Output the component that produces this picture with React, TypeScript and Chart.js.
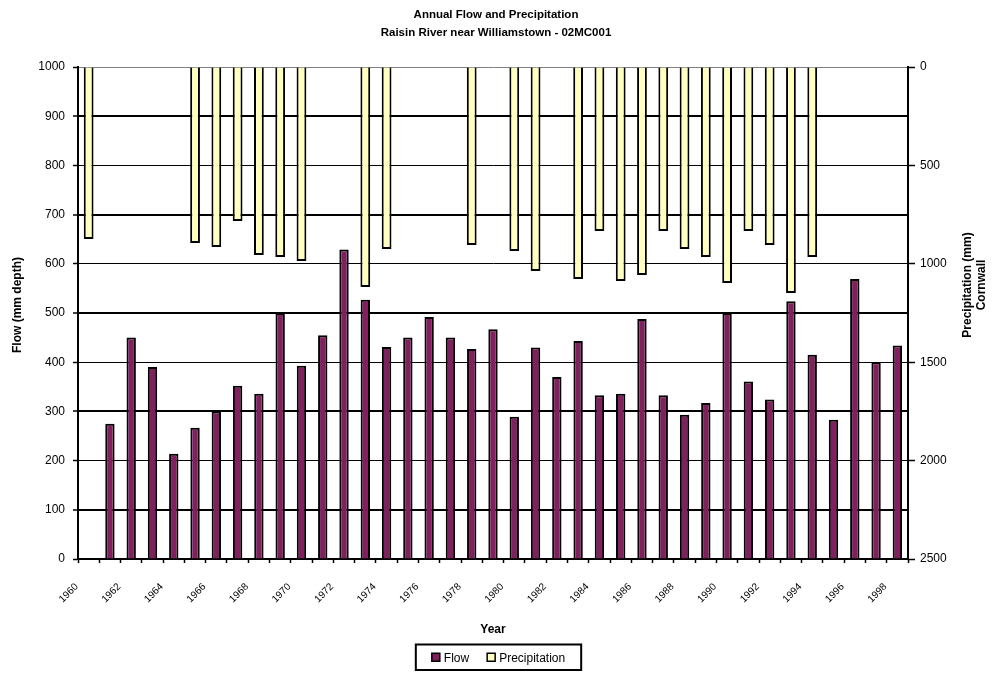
import React, { useEffect, useRef } from "react";
import { Chart, registerables } from "chart.js";

Chart.register(...registerables);

const FONT = "'Liberation Sans', Arial, sans-serif";

const years = [
  "1960", "1961", "1962", "1963", "1964", "1965", "1966", "1967", "1968", "1969",
  "1970", "1971", "1972", "1973", "1974", "1975", "1976", "1977", "1978", "1979",
  "1980", "1981", "1982", "1983", "1984", "1985", "1986", "1987", "1988", "1989",
  "1990", "1991", "1992", "1993", "1994", "1995", "1996", "1997", "1998",
];

const flowValues = [
  null, 275, 450, 390, 214, 267, 300, 352, 336, 500,
  393, 455, 629, 527, 431, 450, 492, 450, 427, 467,
  289, 430, 370, 443, 333, 336, 488, 333, 293, 317,
  500, 361, 324, 524, 415, 283, 569, 400, 434,
];

const precipValues = [
  874, null, null, null, null, 894, 915, 783, 955, 965,
  986, null, null, 1118, 925, null, null, null, 904, null,
  935, 1037, null, 1077, 833, 1087, 1057, 833, 925, 965,
  1098, 833, 904, 1148, 965, null, null, null, null,
];

const titleLines = ["Annual Flow and Precipitation", "Raisin River near Williamstown - 02MC001"];
const xTitle = "Year";
const yTitle = "Flow (mm depth)";
const y2TitleLines = ["Precipitation (mm)", "Cornwall"];
const seriesNames = ["Flow", "Precipitation"];
const flowColor = "#80205F";
const precipColor = "#FFFFC0";

const decorPlugin = {
  id: "decor",
  afterDraw(chart: any) {
    const ctx = chart.ctx as CanvasRenderingContext2D;
    ctx.save();
    ctx.fillStyle = "#000";
    ctx.textAlign = "center";
    ctx.textBaseline = "middle";

    // main title
    ctx.font = `bold 11.5px ${FONT}`;
    ctx.fillText(titleLines[0], 496, 15);
    ctx.fillText(titleLines[1], 496, 33);

    // x title
    ctx.font = `bold 12px ${FONT}`;
    ctx.fillText(xTitle, 493, 630);

    // left y title
    ctx.save();
    ctx.translate(18, 305);
    ctx.rotate(-Math.PI / 2);
    ctx.fillText(yTitle, 0, 0);
    ctx.restore();

    // right y title
    ctx.save();
    ctx.translate(968, 285);
    ctx.rotate(-Math.PI / 2);
    ctx.fillText(y2TitleLines[0], 0, 0);
    ctx.fillText(y2TitleLines[1], 0, 14);
    ctx.restore();

    // legend
    const datasets = chart.data.datasets;
    ctx.font = `12px ${FONT}`;
    const sw = 8;
    const gap = 4;
    const itemGap = 18;
    const padX = 16;
    const widths = datasets.map((d: any) => sw + gap + ctx.measureText(d.label).width);
    const inner = widths.reduce((a: number, b: number) => a + b, 0) + itemGap * (datasets.length - 1);
    const boxW = inner + padX * 2;
    const cx = 498.5;
    const boxL = cx - boxW / 2;
    const boxT = 644.5;
    const boxH = 25.5;
    ctx.lineWidth = 2;
    ctx.strokeStyle = "#000";
    ctx.strokeRect(boxL, boxT, boxW, boxH);
    let x = boxL + padX;
    const cy = boxT + boxH / 2;
    datasets.forEach((d: any, i: number) => {
      ctx.fillStyle = d.backgroundColor;
      ctx.fillRect(x, cy - sw / 2, sw, sw);
      ctx.lineWidth = 1.5;
      ctx.strokeRect(x, cy - sw / 2, sw, sw);
      ctx.fillStyle = "#000";
      ctx.textAlign = "left";
      ctx.fillText(d.label, x + sw + gap, cy + 1);
      x += widths[i] + itemGap;
    });
    ctx.restore();
  },
};

export default function App() {
  const canvasRef = useRef<HTMLCanvasElement | null>(null);

  useEffect(() => {
    document.body.style.margin = "0";
    const canvas = canvasRef.current;
    if (!canvas) return;
    const chart = new Chart(canvas, {
      type: "bar",
      data: {
        labels: years,
        datasets: [
          {
            label: seriesNames[0],
            data: flowValues,
            yAxisID: "y",
            backgroundColor: flowColor,
            borderColor: "#000",
            borderWidth: 2,
            grouped: false,
            barPercentage: 0.44,
            categoryPercentage: 1,
            order: 1,
          },
          {
            label: seriesNames[1],
            data: precipValues,
            yAxisID: "y2",
            backgroundColor: precipColor,
            borderColor: "#000",
            borderWidth: 2,
            grouped: false,
            barPercentage: 0.46,
            categoryPercentage: 1,
            order: 2,
          },
        ] as any,
      },
      options: {
        responsive: false,
        animation: false,
        layout: { padding: { top: 67, left: 0, right: 0, bottom: 0 } },
        plugins: {
          legend: { display: false },
          title: { display: false },
          tooltip: { enabled: false },
        },
        scales: {
          x: {
            offset: true,
            afterFit: (s: any) => {
              s.height = 114;
            },
            grid: {
              offset: true,
              drawOnChartArea: false,
              drawTicks: true,
              tickLength: 4,
              tickColor: "#000",
              tickWidth: 1.5,
            },
            border: { display: true, color: "#000", width: 2 },
            ticks: {
              autoSkip: false,
              maxRotation: 45,
              minRotation: 45,
              padding: 18,
              labelOffset: -12,
              color: "#000",
              font: { family: FONT, size: 10 },
              callback: (_v: any, i: number) => (i % 2 === 0 ? years[i] : ""),
            },
          },
          y: {
            position: "left",
            min: 0,
            max: 1000,
            afterFit: (s: any) => {
              s.width = 78;
            },
            ticks: {
              stepSize: 100,
              padding: 8,
              color: "#000",
              font: { family: FONT, size: 12 },
              callback: (v: any) => String(v),
            },
            grid: {
              color: (c: any) => (c.tick && c.tick.value === 1000 ? "#808080" : "#000"),
              lineWidth: (c: any) => (c.index % 2 === 1 ? 2 : 1),
              tickLength: 5,
              tickColor: "#000",
              tickWidth: 1.5,
            },
            border: { display: true, color: "#000", width: 2 },
          },
          y2: {
            position: "right",
            reverse: true,
            min: 0,
            max: 2500,
            afterFit: (s: any) => {
              s.width = 85;
            },
            ticks: {
              stepSize: 500,
              padding: 5,
              color: "#000",
              font: { family: FONT, size: 12 },
              callback: (v: any) => String(v),
            },
            grid: {
              drawOnChartArea: false,
              tickLength: 7,
              tickColor: "#000",
              tickWidth: 1.5,
            },
            border: { display: true, color: "#000", width: 2 },
          },
        },
      } as any,
      plugins: [decorPlugin],
    });
    return () => chart.destroy();
  }, []);

  return (
    <div style={{ width: 993, height: 673 }}>
      <canvas ref={canvasRef} width={993} height={673} style={{ display: "block" }} />
    </div>
  );
}
